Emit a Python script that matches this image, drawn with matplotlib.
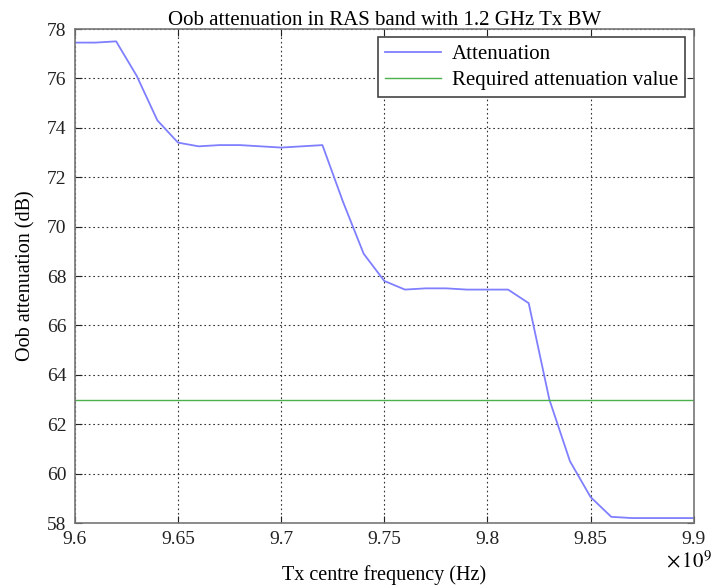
import numpy as np
import matplotlib.pyplot as plt
from matplotlib.ticker import FuncFormatter

plt.rcParams['font.family'] = ['Liberation Serif', 'DejaVu Serif']
plt.rcParams['mathtext.fontset'] = 'stix'

# Tx centre frequency (Hz) and out-of-band attenuation (dB)
freq = np.array([9.60, 9.61, 9.62, 9.63, 9.64, 9.65, 9.66, 9.67, 9.68, 9.69,
                 9.70, 9.71, 9.72, 9.73, 9.74, 9.75, 9.76, 9.77, 9.78, 9.79,
                 9.80, 9.81, 9.82, 9.83, 9.84, 9.85, 9.86, 9.87, 9.88, 9.89,
                 9.90]) * 1e9
atten = np.array([77.45, 77.45, 77.5, 76.1, 74.3, 73.4, 73.25, 73.3, 73.3, 73.25,
                  73.2, 73.25, 73.3, 71.0, 68.9, 67.8, 67.45, 67.5, 67.5, 67.45,
                  67.45, 67.45, 66.9, 63.0, 60.5, 59.05, 58.25, 58.2, 58.2, 58.2,
                  58.2])
required = 63.0

fig = plt.figure(figsize=(7.13, 5.86), dpi=100)
ax = fig.add_axes([0.105, 0.1075, 0.868, 0.843])

ax.plot(freq, atten, color='#7f7fff', lw=1.3, label='Attenuation')
ax.axhline(required, color='#4cb04c', lw=1.0, label='Required attenuation value')

ax.set_xlim(9.6e9, 9.9e9)
ax.set_ylim(58, 78)
ax.set_xticks(np.arange(9.6e9, 9.9e9 + 1, 0.05e9))
ax.set_yticks(np.arange(58, 79, 2))
ax.xaxis.set_major_formatter(FuncFormatter(lambda v, p: ('%.2f' % (v / 1e9)).rstrip('0').rstrip('.')))

ax.grid(True, color='#333333', linestyle=(0, (1.5, 2.5)), lw=0.8)
ax.tick_params(direction='in', top=True, right=True, labelsize=14, colors='#222222', length=5, pad=6)
for s in ax.spines.values():
    s.set_color('#777777')
    s.set_linewidth(1.2)

ax.set_title('Oob attenuation in RAS band with 1.2 GHz Tx BW', fontsize=15, pad=3)
ax.set_xlabel('Tx centre frequency (Hz)', fontsize=14.5, labelpad=12)
ax.set_ylabel('Oob attenuation (dB)', fontsize=14.5, labelpad=8)
ax.text(0.992, -0.078, r'$\times\,10^{9}$', transform=ax.transAxes, ha='center', va='center', fontsize=15)

leg = ax.legend(loc='upper right', fontsize=15, fancybox=False, framealpha=1,
                edgecolor='#444444', borderaxespad=0.4, handlelength=2.7, handletextpad=0.5,
                labelspacing=0.3, borderpad=0.35)
leg.get_frame().set_linewidth(1.2)

fig.savefig('out.png', dpi=100)
